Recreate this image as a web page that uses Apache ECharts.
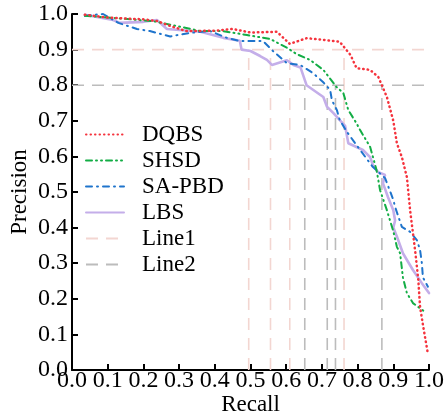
<!DOCTYPE html>
<html>
<head>
<meta charset="utf-8">
<script src="https://cdn.jsdelivr.net/npm/echarts@6/dist/echarts.min.js"></script>
<style>
  html, body { margin: 0; padding: 0; background: #fff; }
  #chart { width: 448px; height: 416px; }
</style>
</head>
<body>
<div id="chart"></div>
<script>
const dqbs = [
  [0.036, 0.998], [0.1, 0.99], [0.2, 0.985], [0.24, 0.98], [0.27, 0.968], [0.32, 0.952],
  [0.4, 0.953], [0.45, 0.958], [0.5, 0.948], [0.574, 0.95], [0.61, 0.916], [0.657, 0.932],
  [0.7, 0.928], [0.75, 0.922], [0.78, 0.885], [0.797, 0.848], [0.835, 0.843], [0.858, 0.823],
  [0.882, 0.767], [0.9, 0.7], [0.91, 0.637], [0.924, 0.598], [0.938, 0.542], [0.947, 0.449],
  [0.955, 0.385], [0.962, 0.328], [0.97, 0.253], [0.975, 0.177], [0.984, 0.121], [0.997, 0.045]
];

const shsd = [
  [0.036, 0.995], [0.115, 0.989], [0.227, 0.98], [0.3, 0.965], [0.36, 0.952], [0.423, 0.952],
  [0.49, 0.941], [0.555, 0.93], [0.602, 0.905], [0.63, 0.887], [0.667, 0.871], [0.704, 0.843],
  [0.741, 0.795], [0.76, 0.778], [0.774, 0.73], [0.797, 0.693], [0.807, 0.674], [0.835, 0.627],
  [0.853, 0.562], [0.863, 0.505], [0.882, 0.449], [0.9, 0.39], [0.91, 0.346], [0.919, 0.328],
  [0.927, 0.26], [0.938, 0.216], [0.955, 0.188], [0.989, 0.163]
];

const sapbd = [
  [0.036, 0.995], [0.087, 1.0], [0.13, 0.975], [0.182, 0.958], [0.218, 0.952], [0.275, 0.937],
  [0.33, 0.947], [0.387, 0.952], [0.434, 0.933], [0.47, 0.924], [0.535, 0.924], [0.563, 0.896],
  [0.602, 0.862], [0.639, 0.857], [0.675, 0.834], [0.703, 0.809], [0.723, 0.787], [0.728, 0.758],
  [0.742, 0.73], [0.75, 0.702], [0.77, 0.669], [0.807, 0.618], [0.843, 0.57], [0.877, 0.539],
  [0.9, 0.478], [0.905, 0.458], [0.924, 0.402], [0.947, 0.388], [0.966, 0.365], [0.975, 0.337],
  [0.98, 0.3], [0.983, 0.26], [0.997, 0.234]
];

const lbs = [
  [0.036, 0.998], [0.115, 0.983], [0.134, 0.975], [0.2, 0.978], [0.238, 0.983], [0.266, 0.958],
  [0.36, 0.95], [0.405, 0.938], [0.424, 0.933], [0.47, 0.925], [0.475, 0.9], [0.5, 0.896],
  [0.527, 0.882], [0.546, 0.871], [0.56, 0.857], [0.602, 0.87], [0.62, 0.857], [0.64, 0.85],
  [0.657, 0.8], [0.704, 0.767], [0.714, 0.74], [0.733, 0.721], [0.75, 0.702], [0.765, 0.686],
  [0.774, 0.637], [0.815, 0.618], [0.835, 0.598], [0.843, 0.576], [0.857, 0.556], [0.877, 0.548],
  [0.871, 0.525], [0.885, 0.486], [0.9, 0.449], [0.905, 0.42], [0.9, 0.4], [0.91, 0.375],
  [0.927, 0.328], [0.955, 0.281], [0.98, 0.244], [1.0, 0.216]
];

// reference lines: a horizontal level plus the recall where each curve meets it
const line1Level = 0.9;
const line1Recalls = [0.495, 0.556, 0.61, 0.762];
const line2Level = 0.8;
const line2Recalls = [0.652, 0.715, 0.738, 0.868];

const FONT = "Liberation Serif";

function refSeries(name, level, recalls, color) {
  const style = { color: color, width: 1.6, type: [12, 8] };
  const out = [{
    name, type: "line", symbol: "none", z: 1, silent: true,
    lineStyle: style, itemStyle: { color },
    data: [[0, level], [1, level]]
  }];
  recalls.forEach(r => {
    out.push({
      name, type: "line", symbol: "none", z: 1, silent: true,
      lineStyle: style, itemStyle: { color },
      data: [[r, 0], [r, level]]
    });
  });
  return out;
}

function curve(name, data, color, width, type, z) {
  return {
    name, type: "line", symbol: "none", z, data,
    itemStyle: { color },
    lineStyle: { color, width, type, cap: "round" }
  };
}

const series = [
  ...refSeries("Line1", line1Level, line1Recalls, "#f3d6d1"),
  ...refSeries("Line2", line2Level, line2Recalls, "#bcbcbc"),
  curve("LBS", lbs, "#c4aee9", 2.6, "solid", 3),
  curve("SA-PBD", sapbd, "#1f74cc", 2, [6, 5, 1, 5], 4),
  curve("SHSD", shsd, "#13ad45", 2, [6, 4, 1, 4, 1, 4], 5),
  curve("DQBS", dqbs, "#f5333d", 2.5, [0.5, 4], 6)
];

const chart = echarts.init(document.getElementById("chart"));

chart.setOption({
  animation: false,
  backgroundColor: "#fff",
  textStyle: { fontFamily: FONT, fontSize: 23, color: "#000" },
  grid: { left: 72, right: 19, top: 14, bottom: 46, outerBoundsMode: "none" },
  legend: {
    orient: "vertical",
    left: 80,
    top: 118,
    itemWidth: 38,
    itemHeight: 14,
    itemGap: 3,
    data: ["DQBS", "SHSD", "SA-PBD", "LBS", "Line1", "Line2"],
    itemStyle: { opacity: 0 },
    textStyle: { fontFamily: FONT, fontSize: 23, color: "#000", padding: [0, 0, 0, 13] }
  },
  xAxis: {
    type: "value",
    min: 0, max: 1, interval: 0.1,
    name: "Recall",
    nameLocation: "middle",
    nameGap: 23,
    nameMoveOverlap: false,
    nameTextStyle: { fontFamily: FONT, fontSize: 23, color: "#000" },
    axisLine: { lineStyle: { color: "#000", width: 2 } },
    axisTick: { inside: true, length: 6, lineStyle: { color: "#000", width: 2 } },
    axisLabel: {
      fontFamily: FONT, fontSize: 24, color: "#000", margin: -1,
      formatter: v => v.toFixed(1)
    },
    splitLine: { show: false }
  },
  yAxis: {
    type: "value",
    min: 0, max: 1, interval: 0.1,
    name: "Precision",
    nameLocation: "middle",
    nameGap: 41,
    nameMoveOverlap: false,
    nameTextStyle: { fontFamily: FONT, fontSize: 23, color: "#000" },
    axisLine: { lineStyle: { color: "#000", width: 2 } },
    axisTick: { inside: true, length: 6, lineStyle: { color: "#000", width: 2 } },
    axisLabel: {
      fontFamily: FONT, fontSize: 24, color: "#000", margin: 4,
      formatter: v => v.toFixed(1)
    },
    splitLine: { show: false }
  },
  series
});
</script>
</body>
</html>
